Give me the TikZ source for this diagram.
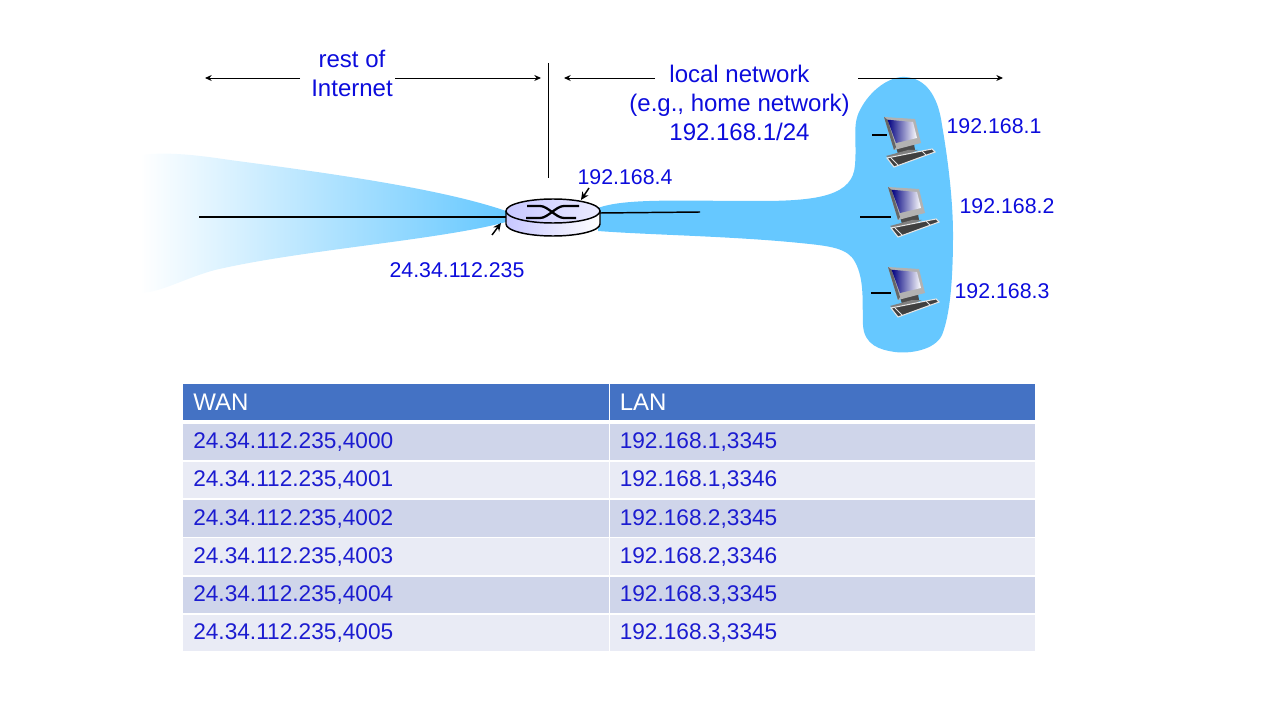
\documentclass[tikz,border=0pt]{standalone}
\usepackage{fontspec}
\usepackage{xcolor}
\usetikzlibrary{arrows.meta,positioning}
\setmainfont{Liberation Sans}
\definecolor{netblue}{HTML}{0C0CDC}
\definecolor{tabletext}{HTML}{1C1CD0}
\definecolor{cloudblue}{HTML}{66C8FF}
\definecolor{headblue}{HTML}{4472C4}
\definecolor{rowdark}{HTML}{CFD5EA}
\definecolor{rowlight}{HTML}{E9EBF5}
\tikzset{
  lbl/.style={text=netblue,font=\fontsize{16pt}{19pt}\selectfont,inner sep=0pt,align=center},
  biglbl/.style={lbl,font=\fontsize{18pt}{21.75pt}\selectfont},
  wire/.style={draw=black,line width=1.1pt},
  span/.style={draw=black,line width=0.7pt,-{Stealth[length=5pt,width=4.5pt]}},
  tick/.style={draw=black,line width=1.1pt,-{Stealth[length=6pt,width=5.5pt]}},
  cell/.style={anchor=north west,minimum width=319pt,minimum height=27.4pt,text width=304pt,inner xsep=7.5pt,inner ysep=0pt,
    font=\fontsize{17pt}{19pt}\selectfont,text=tabletext},
  headcell/.style={cell,fill=headblue,text=white,font=\fontsize{18pt}{19pt}\selectfont},
  pics/pcbox/.style={code={
    % stand and keyboard
    \fill[black!70] (12,30) -- (30,27) -- (31,33) -- (14,37) -- cycle;
    \fill[black!50] (2,39) -- (24,33) -- (34,33) -- (10,44) -- cycle;
    \fill[black!75,draw=white!90!black,line width=0.8pt] (3,41) -- (48,32) -- (51,35) -- (10,50) -- cycle;
    \draw[white!90!black,line width=0.6pt] (7,41) -- (14,48) (38,34) -- (42,38);
    % monitor and screen
    \fill[black!30] (0,0) -- (31,2) -- (37,26) -- (10,33) -- cycle;
    \fill[black!60] (0,0) -- (3.5,2.7) -- (12,30) -- (10,33) -- cycle;
    \shade[shading angle=125,left color=blue!50!black,middle color=blue!15!white,right color=white] (3.5,2.7) -- (29,5) -- (33,21) -- (12,26) -- cycle;
    \coordinate (-port) at (3,18);
  }},
}
\begin{document}
\begin{tikzpicture}[x=0.75pt,y=-0.75pt]
\useasboundingbox (0,0) rectangle (1280,720);
% clouds
\shade[left color=white,right color=cloudblue]
  (140,155) .. controls (165,152) and (190,154) .. (230,160)
  .. controls (320,172) and (440,188) .. (506,211)
  -- (506,222) .. controls (440,240) and (300,250) .. (215,270)
  .. controls (185,278) and (160,293) .. (140,293) -- cycle;
\fill[cloudblue]
  (598,208) .. controls (625,198) and (680,201) .. (760,201)
  .. controls (820,201) and (853,195) .. (855,165)
  .. controls (857,140) and (852,125) .. (860,110)
  .. controls (870,90) and (890,76) .. (905,77)
  .. controls (925,78) and (938,95) .. (942,125)
  .. controls (948,160) and (953,200) .. (953,235)
  .. controls (953,280) and (950,315) .. (942,335)
  .. controls (935,350) and (910,354) .. (895,352)
  .. controls (880,350) and (864,345) .. (863,325)
  .. controls (862,305) and (865,280) .. (855,262)
  .. controls (848,248) and (830,246) .. (800,243)
  .. controls (730,236) and (650,235) .. (598,231) -- cycle;
% router
\shade[left color=blue!22,right color=white] (506,211) -- (506,224) arc[x radius=47,y radius=12,start angle=180,end angle=0] -- (600,211) -- cycle;
\shade[left color=blue!22,right color=white!92!blue] (553,211) ellipse[x radius=47,y radius=12];
\draw[line width=1.1pt] (553,211) ellipse[x radius=47,y radius=12];
\draw[line width=1.1pt] (506,211) -- (506,224) arc[x radius=47,y radius=12,start angle=180,end angle=0] -- (600,211);
\draw[line width=1.7pt] (527,206) -- (540,206) .. controls (548,206) and (556,218) .. (564,218) -- (576,218);
\draw[line width=1.7pt] (526,218) -- (540,218) .. controls (548,218) and (556,206) .. (564,206) -- (579,206);
\coordinate (routerwest) at (506,217);
\coordinate (routereast) at (600,213);
\coordinate (routertop) at (581,200);
\coordinate (routerleft) at (501,223);
% links
\coordinate (wanend) at (199,217);
\coordinate (lanend) at (700,212);
\draw[wire] (wanend) -- (routerwest);
\draw[wire] (routereast) -- (lanend);
% hosts
\pic (pca) at (884,117) {pcbox};
\pic (pcb) at (888,187) {pcbox};
\pic (pcc) at (888,267) {pcbox};
\foreach \host/\from/\y in {pca/872/135,pcb/860/217,pcc/871/293} {
  \coordinate (\host stub) at (\from,\y);
  \draw[wire] (\host stub) -- (\host-port |- \host stub);
}
% labels
\node[biglbl] (restlbl) at (352,73.5) {rest of\\Internet};
\node[biglbl] (locallbl) at (739.5,103) {local network\\(e.g., home network)\\192.168.1/24};
\node[lbl] (addrfour) at (625,177) {192.168.4};
\node[lbl] (addrwan) at (457,270) {24.34.112.235};
\node[lbl] (addrone) at (994,126) {192.168.1};
\node[lbl] (addrtwo) at (1007,206) {192.168.2};
\node[lbl] (addrthree) at (1002,291) {192.168.3};
% spans
\coordinate (divtop) at (548,63);
\coordinate (divbot) at (548,178);
\draw[line width=0.6pt] (divtop) -- (divbot);
\foreach \from/\to/\y in {300/205/78,395/541/78,655/564/78,858/1003/78} {
  \coordinate (s\from) at (\from,\y);
  \coordinate (e\from) at (\to,\y);
  \draw[span] (s\from) -- (e\from);
}
\coordinate (tickfour) at (589,188);
\coordinate (tickwan) at (492,235);
\draw[tick] (tickfour) -- (routertop);
\draw[tick] (tickwan) -- (routerleft);
% table
\node[headcell] (wanhead) at (183,383.5) {WAN};
\node[headcell] (lanhead) at (609.5,383.5) {LAN};
\foreach \row/\y/\wan/\lan/\tone in {
  1/423.5/4000/{192.168.1,3345}/rowdark,
  2/461.5/4001/{192.168.1,3346}/rowlight,
  3/500/4002/{192.168.2,3345}/rowdark,
  4/538/4003/{192.168.2,3346}/rowlight,
  5/576.5/4004/{192.168.3,3345}/rowdark,
  6/614.5/4005/{192.168.3,3345}/rowlight} {
  \node[cell,fill=\tone] (wan\row) at (183,\y) {\raisebox{-0.5pt}{24.34.112.235,\wan}};
  \node[cell,fill=\tone] (lan\row) at (609.5,\y) {\raisebox{-0.5pt}{\lan}};
}
\end{tikzpicture}
\end{document}
